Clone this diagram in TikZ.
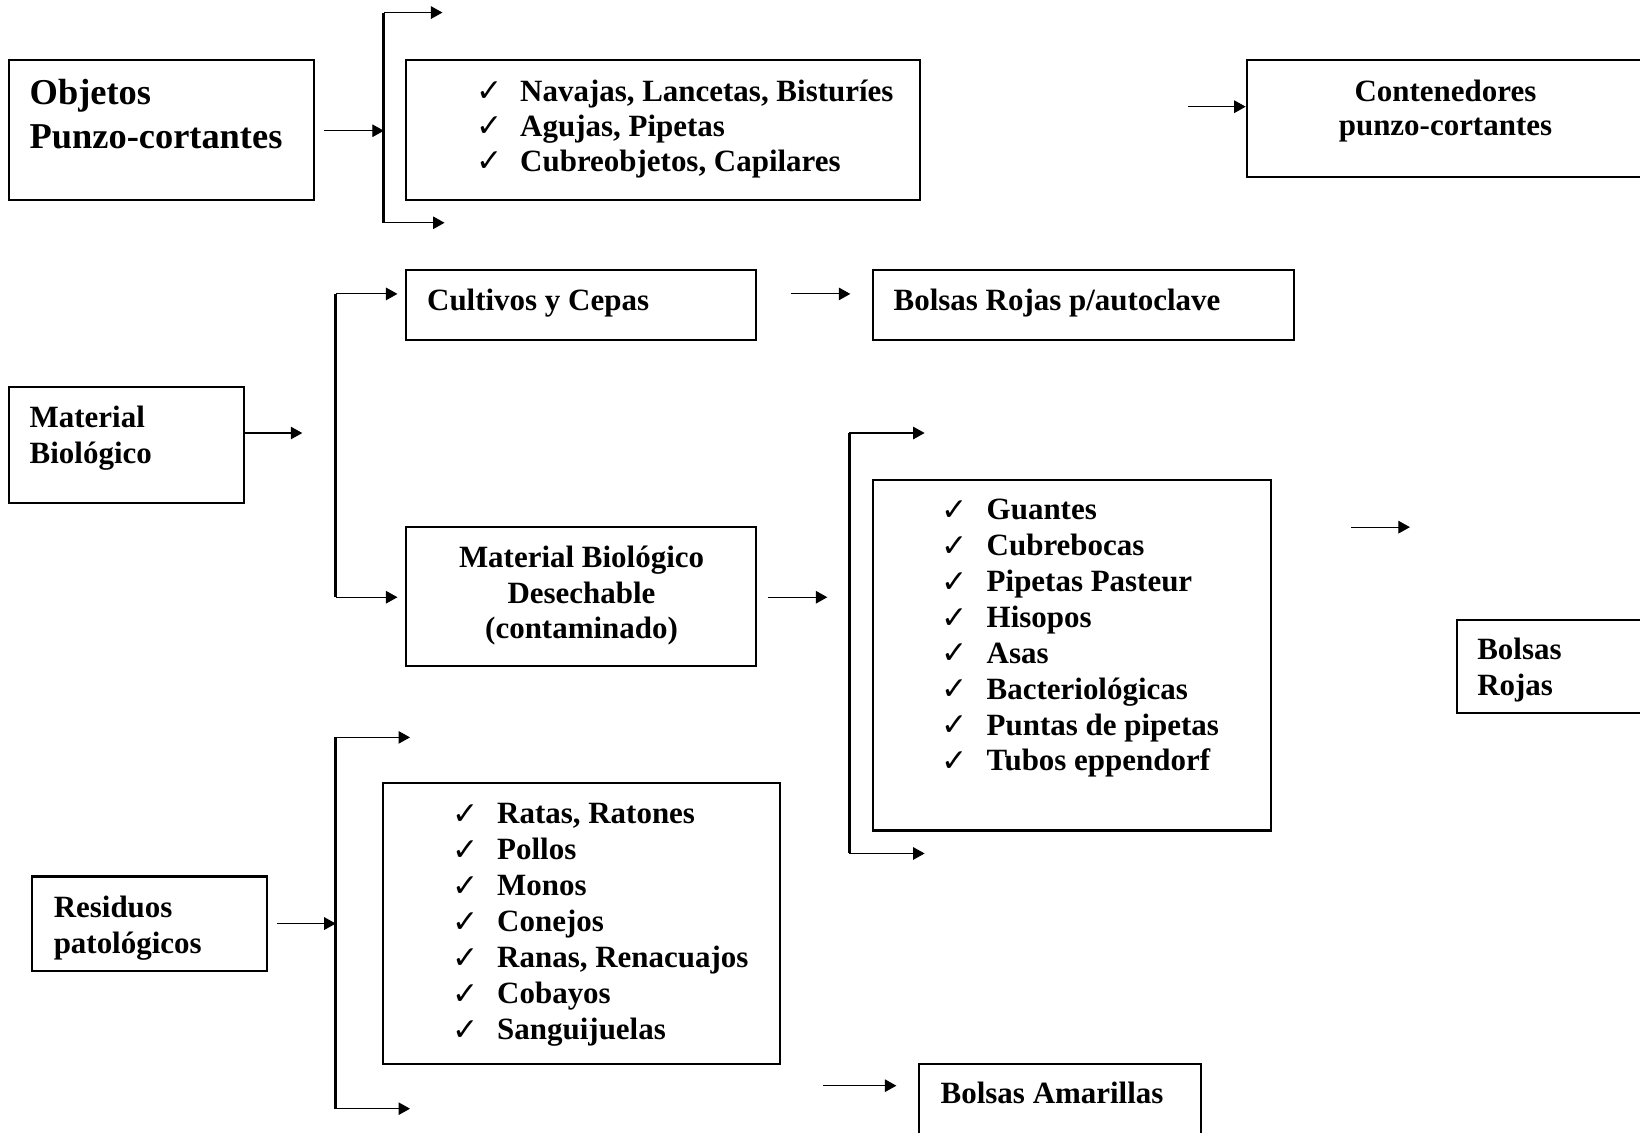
\documentclass[tikz,border=0pt]{standalone}
\usepackage{fontspec}
\setmainfont{Liberation Serif}
\newfontfamily\checkfont{DejaVu Sans}
\usetikzlibrary{arrows.meta,fit}

\tikzset{
  box/.style={draw, line width=1pt, inner sep=0pt},
  lbl/.style={font=\bfseries\fontsize{14.8}{17.2}\selectfont, inner sep=0pt, anchor=base west},
  lblc/.style={lbl, anchor=base},
  big/.style={font=\bfseries\fontsize{17.4}{20.5}\selectfont, inner sep=0pt, anchor=base west},
  chk/.style={font=\checkfont\fontsize{15}{18}\selectfont, inner sep=0pt, anchor=base west},
  arr/.style={line width=0.5pt, -{Triangle[length=5.5pt,width=6pt]}},
  rail/.style={line width=1.4pt},
}

\begin{document}
\begin{tikzpicture}[x=0.5pt, y=-0.5pt]
\clip (0,0) rectangle (1568,1083);
\fill[white] (0,0) rectangle (1568,1083);

% ---------- boxes ----------
\node[box, fit={(9,57) (300,191)}]      (objetos)   {};
\node[box, fit={(388,57) (880,191)}]    (cortantes) {};
\node[box, fit={(1192,57) (1600,169)}]  (conten)    {};
\node[box, fit={(388,258) (723,325)}]   (cultivos)  {};
\node[box, fit={(835,258) (1237,325)}]  (autoclave) {};
\node[box, fit={(9,370) (233,481)}]     (matbio)    {};
\node[box, fit={(388,504) (723,637)}]   (desech)    {};
\node[box, fit={(835,459) (1215,794)}]  (desechlist){};
\node[box, fit={(1393,593) (1600,682)}] (rojas)     {};
\node[box, fit={(31,838) (255,928)}]    (residuos)  {};
\node[box, fit={(366,749) (746,1017)}]  (animales)  {};
\node[box, fit={(879,1017) (1148,1120)}](amarillas) {};

% ---------- box texts ----------
\node[big] (t-obj1) at (28,100)  {Objetos};
\node[big] (t-obj2) at (28,142) {Punzo-cortantes};

\foreach \t [count=\i from 0] in {{Navajas, Lancetas, Bisturíes},{Agujas, Pipetas},{Cubreobjetos, Capilares}} {
  \node[chk] (c-pc\i) at (455,97+33.6*\i) {✓};
  \node[lbl] (t-pc\i) at (497,96.6+33.6*\i) {\t};
}

\node[lblc] (t-con1) at (1382,96.8) {Contenedores};
\node[lblc] (t-con2) at (1382,130) {punzo-cortantes};

\node[lbl] (t-cul) at (408,297) {Cultivos y Cepas};
\node[lbl] (t-aut) at (854,297) {Bolsas Rojas p/autoclave};

\node[lbl] (t-mb1) at (28,408.6) {Material};
\node[lbl] (t-mb2) at (28,443)   {Biológico};

\node[lblc] (t-de1) at (556,542.4) {Material Biológico};
\node[lblc] (t-de2) at (556,576.8) {Desechable};
\node[lblc] (t-de3) at (556,610.9) {(contaminado)};

\foreach \t [count=\i from 0] in {Guantes,Cubrebocas,Pipetas Pasteur,Hisopos,Asas,Bacteriológicas,Puntas de pipetas,Tubos eppendorf} {
  \node[chk] (c-de\i) at (900,497.6+34.3*\i) {✓};
  \node[lbl] (t-dl\i) at (943,497+34.3*\i) {\t};
}

\node[lbl] (t-ro1) at (1412,631) {Bolsas};
\node[lbl] (t-ro2) at (1412,665) {Rojas};

\node[lbl] (t-re1) at (51,877) {Residuos};
\node[lbl] (t-re2) at (51,912) {patológicos};

\foreach \t [count=\i from 0] in {{Ratas, Ratones},Pollos,Monos,Conejos,{Ranas, Renacuajos},Cobayos,Sanguijuelas} {
  \node[chk] (c-an\i) at (432,788+34.4*\i) {✓};
  \node[lbl] (t-an\i) at (475,787.2+34.4*\i) {\t};
}

\node[lbl] (t-ama) at (899,1055.5) {Bolsas Amarillas};

% ---------- connector points ----------
% punzo-cortantes branch
\coordinate (pcin)  at (310,125);
\coordinate (pctop) at (367,12);
\coordinate (pcmid) at (367,125);
\coordinate (pcbot) at (367,213);
\coordinate (pcta)  at (423,12);
\coordinate (pcba)  at (425,213);
\coordinate (conin) at (1136,102);
% biological branch
\coordinate (mbout) at (233,414);
\coordinate (mbtip) at (289,414);
\coordinate (mbtop) at (321,281);
\coordinate (mbbot) at (321,571);
\coordinate (mbta)  at (380,281);
\coordinate (mbba)  at (380,571);
\coordinate (cuout) at (756,281);
\coordinate (cutip) at (813,281);
\coordinate (deout) at (734,571);
\coordinate (detip) at (791,571);
\coordinate (dltop) at (812,414);
\coordinate (dlbot) at (812,816);
\coordinate (dlta)  at (884,414);
\coordinate (dlba)  at (884,816);
\coordinate (roout) at (1292,504);
\coordinate (rotip) at (1348,504);
% pathological branch
\coordinate (rein)  at (265,883);
\coordinate (remid) at (321,883);
\coordinate (retop) at (321,705);
\coordinate (rebot) at (321,1060);
\coordinate (reta)  at (392,705);
\coordinate (reba)  at (392,1060);
\coordinate (amout) at (787,1038);
\coordinate (amtip) at (857,1038);

% ---------- connectors ----------
\draw[rail] (pctop) -- (pcbot);
\draw[arr] (pcin) -- (pcmid);
\draw[arr] (pctop) -- (pcta);
\draw[arr] (pcbot) -- (pcba);
\draw[arr] (conin) -- (conin -| conten.west);

\draw[arr] (mbout) -- (mbtip);
\draw[rail] (mbtop) -- (mbbot);
\draw[arr] (mbtop) -- (mbta);
\draw[arr] (mbbot) -- (mbba);
\draw[arr] (cuout) -- (cutip);
\draw[arr] (deout) -- (detip);
\draw[rail] (dltop) -- (dlbot);
\draw[arr] (dltop) -- (dlta);
\draw[arr] (dlbot) -- (dlba);
\draw[arr] (roout) -- (rotip);

\draw[rail] (retop) -- (rebot);
\draw[arr] (rein) -- (remid);
\draw[arr] (retop) -- (reta);
\draw[arr] (rebot) -- (reba);
\draw[arr] (amout) -- (amtip);
\end{tikzpicture}
\end{document}
